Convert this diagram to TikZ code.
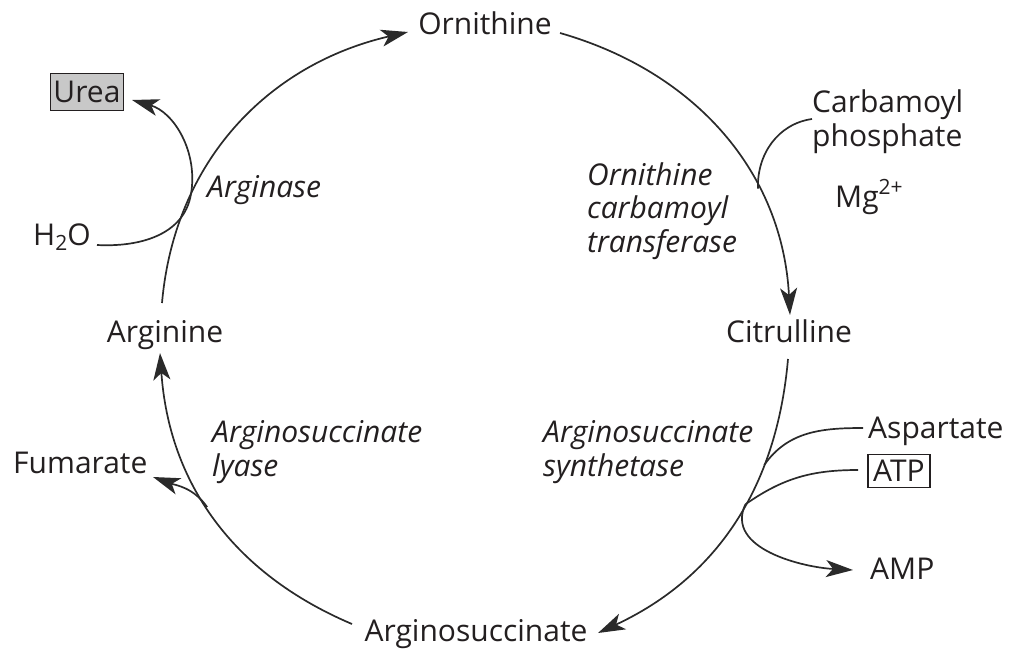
\documentclass[tikz,border=0pt]{standalone}
\usepackage{fontspec}
\setmainfont{Open Sans}
\usetikzlibrary{arrows.meta}
\definecolor{txt}{HTML}{231F20}
\definecolor{ln}{HTML}{2A2A2A}
\definecolor{ureafill}{HTML}{C8C8C8}
\begin{document}
\begin{tikzpicture}[x=1pt,y=-1pt,
  lbl/.style={inner sep=0pt, text=txt, font=\fontsize{30}{34}\selectfont},
  enz/.style={inner sep=0pt, text=txt, font=\fontsize{30}{34}\selectfont\itshape, align=left},
  boxed/.style={lbl, draw=txt, line width=1.2pt, inner xsep=3pt, minimum height=37pt},
  tip/.style={-{Stealth[length=27pt,width=17pt,inset=7pt]}},
  cyc/.style={line width=1.7pt, draw=ln},
]
\useasboundingbox (0,0) rectangle (1010,649);

% metabolite labels
\node[lbl, anchor=base] (orn) at (485,34) {Ornithine};
\node[lbl, anchor=base] (cit) at (789,342) {Citrulline};
\node[lbl, anchor=base] (asu) at (476,641) {Arginosuccinate};
\node[lbl, anchor=base] (arg) at (165,342) {Arginine};
\node[boxed, fill=ureafill, minimum width=72pt] (urea) at (87,92) {Urea};
\node[lbl, anchor=base west] (h2o) at (33,245) {H\raisebox{-0.32ex}{\fontsize{21}{21}\selectfont 2}O};
\node[lbl, anchor=base west] (cp1) at (812,112) {Carbamoyl};
\node[lbl, anchor=base west] (cp2) at (812,146) {phosphate};
\node[lbl, anchor=base west] (mg) at (835,207) {Mg\raisebox{0.75ex}{\fontsize{21}{21}\selectfont 2+}};
\node[lbl, anchor=base west] (asp) at (868,438) {Aspartate};
\node[boxed, fill=white, minimum width=62pt, minimum height=33pt] (atp) at (899,471) {ATP};
\node[lbl, anchor=base west] (amp) at (870,579) {AMP};
\node[lbl, anchor=base west] (fum) at (13,473) {Fumarate};

% enzyme labels
\node[enz, anchor=base west] (ase) at (207,197) {Arginase};
\node[enz, anchor=base west] (oct1) at (587,185) {Ornithine};
\node[enz, anchor=base west] (oct2) at (587,218) {carbamoyl};
\node[enz, anchor=base west] (oct3) at (587,252) {transferase};
\node[enz, anchor=base west] (asl1) at (212,442) {Arginosuccinate};
\node[enz, anchor=base west] (asl2) at (212,476) {lyase};
\node[enz, anchor=base west] (ass1) at (543,442) {Arginosuccinate};
\node[enz, anchor=base west] (ass2) at (543,476) {synthetase};

% arc end points
\coordinate (a1s) at (162,303);
\coordinate (a1e) at (408,32);
\coordinate (a2s) at (560,33);
\coordinate (a2e) at (790,315);
\coordinate (a3s) at (788,359);
\coordinate (a3e) at (598,633);
\coordinate (a4s) at (352,624);
\coordinate (a4e) at (160,353);

% cycle arcs
\draw[cyc, tip] (a1s) to[out=85,in=193] coordinate[pos=0.28] (jA) (a1e);
\draw[cyc, tip] (a2s) to[out=-16,in=93] coordinate[pos=0.67] (jC) (a2e);
\draw[cyc, tip] (a3s) to[out=-95,in=25] coordinate[pos=0.30] (jAsp) coordinate[pos=0.43] (jATP) (a3e);
\draw[cyc, tip] (a4s) to[out=157,in=-86] coordinate[pos=0.54] (jF) (a4e);

% side branches
\coordinate (h2oe) at (97,245);
\coordinate (ureat) at (132,100);
\draw[cyc] (h2oe) to[out=-3,in=260] (jA);
\draw[cyc, tip] (jA) to[out=80,in=-16] (ureat);

\coordinate (cpe) at (812,119);
\draw[cyc] (cpe) to[out=188,in=92] (jC);

\coordinate (aspe) at (863,428);
\draw[cyc] (aspe) to[out=180,in=55] (jAsp);

\coordinate (atpe) at (858,470);
\coordinate (ampt) at (853,570);
\draw[cyc] (atpe) to[out=180,in=35] (jATP);
\draw[cyc, tip] (jATP) to[out=245,in=177] (ampt);

\coordinate (fumt) at (153,477);
\draw[cyc, tip] (jF) to[out=125,in=-20] (fumt);
\end{tikzpicture}
\end{document}
